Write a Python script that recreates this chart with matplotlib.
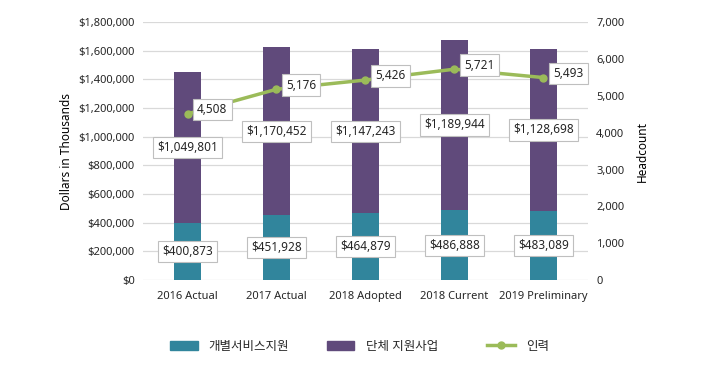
import matplotlib.pyplot as plt
from matplotlib.ticker import FuncFormatter
from matplotlib.lines import Line2D
from matplotlib.patches import Patch

plt.rcParams['font.family'] = ['Noto Sans', 'Noto Sans CJK KR', 'DejaVu Sans']

# data
categories = ['2016 Actual', '2017 Actual', '2018 Adopted', '2018 Current', '2019 Preliminary']
individual = [400873, 451928, 464879, 486888, 483089]
group = [1049801, 1170452, 1147243, 1189944, 1128698]
headcount = [4508, 5176, 5426, 5721, 5493]
legend_names = ['개별서비스지원', '단체 지원사업', '인력']

teal = '#31859C'
purple = '#604A7B'
green = '#9BBB59'
txt = '#262626'

fig = plt.figure(figsize=(7.09, 3.73), dpi=100)
ax = fig.add_axes([0.2017, 0.249, 0.6276, 0.692])
ax2 = ax.twinx()

x = range(len(categories))
ax.bar(x, individual, width=0.31, color=teal, zorder=2)
ax.bar(x, group, width=0.31, bottom=individual, color=purple, zorder=2)

box = dict(boxstyle='square,pad=0.35', fc='white', ec='#BFBFBF', lw=0.8)
for i in x:
    ax.text(i, individual[i] / 2, '${:,}'.format(individual[i]), ha='center', va='center',
            fontsize=8.5, color=txt, bbox=box, zorder=5)
    ax.text(i, individual[i] + group[i] / 2, '${:,}'.format(group[i]), ha='center', va='center',
            fontsize=8.5, color=txt, bbox=box, zorder=5)

ax.set_ylim(0, 1800000)
ax.set_yticks(range(0, 1800001, 200000))
ax.yaxis.set_major_formatter(FuncFormatter(lambda v, p: '${:,.0f}'.format(v)))
ax.set_xlim(-0.5, len(categories) - 0.5)
ax.set_xticks(list(x))
ax.set_xticklabels(categories)
ax.grid(axis='y', color='#D9D9D9', lw=0.9, zorder=0)
ax.set_axisbelow(True)
ax.set_ylabel('Dollars in Thousands', fontsize=8.5, color='black', labelpad=4)

ax2.plot(list(x), headcount, color=green, lw=2.5, marker='o', ms=5, zorder=4)
for i in x:
    ax2.annotate('{:,}'.format(headcount[i]), (i, headcount[i]), xytext=(7, 3),
                 textcoords='offset points', ha='left', va='center', fontsize=8.5,
                 color=txt, bbox=box, zorder=6)
ax2.set_ylim(0, 7000)
ax2.set_yticks(range(0, 7001, 1000))
ax2.yaxis.set_major_formatter(FuncFormatter(lambda v, p: '{:,.0f}'.format(v)))
ax2.set_ylabel('Headcount', fontsize=8.5, color='black', rotation=90, labelpad=8)

for a in (ax, ax2):
    for s in a.spines.values():
        s.set_visible(False)
    a.tick_params(length=0, labelsize=8, colors=txt, pad=6)
ax.tick_params(axis='x', pad=8, labelsize=8)

# legend: bars in one group, headcount line placed separately
leg_kw = dict(frameon=False, fontsize=9, labelcolor=txt, handlelength=2.2,
              handleheight=0.8, handletextpad=0.9, borderpad=0, borderaxespad=0)
bar_handles = [Patch(color=teal), Patch(color=purple)]
leg1 = fig.legend(bar_handles, legend_names[:2], loc='center left',
                  bbox_to_anchor=(170 / 709, 0.072), ncol=2, columnspacing=3.0, **leg_kw)
line_handle = [Line2D([0], [0], color=green, lw=2.5, marker='o', ms=5)]
fig.legend(line_handle, legend_names[2:], loc='center left',
           bbox_to_anchor=(487 / 709, 0.072), **leg_kw)

fig.savefig('out.png', dpi=100)
